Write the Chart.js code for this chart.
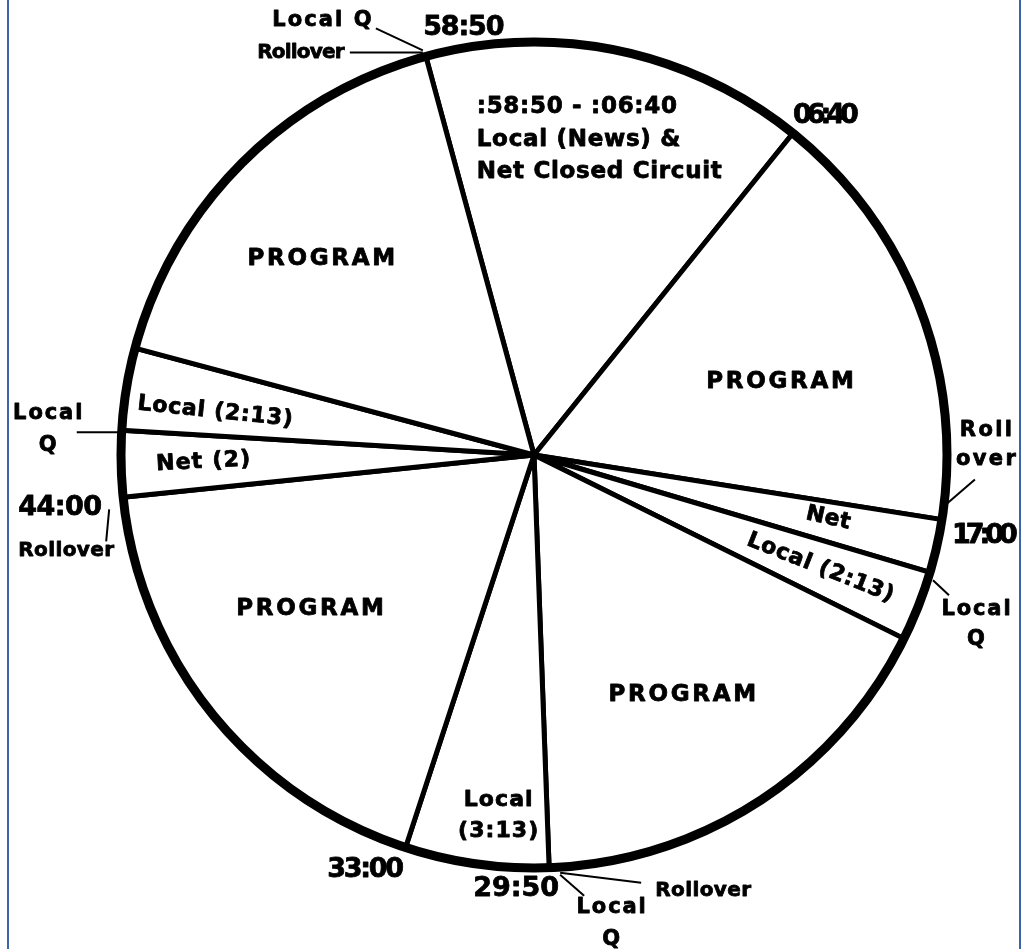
<!DOCTYPE html>
<html>
<head>
<meta charset="utf-8">
<script src="https://cdn.jsdelivr.net/npm/chart.js@4.4.0/dist/chart.umd.min.js"></script>
<style>
  html, body { margin: 0; padding: 0; background: #fff; }
  #frame { position: relative; width: 1032px; height: 949px; overflow: hidden; }
  #frame:before, #frame:after { content: ''; position: absolute; top: 0; bottom: 0; width: 0; border-left: 2px solid #3a66a8; }
  #frame:before { left: 7px; }
  #frame:after { left: 1019px; }
  canvas { position: relative; display: block; }
</style>
</head>
<body>
<div id="frame"><canvas id="clock" width="1032" height="949"></canvas></div>
<script>
//-----------------------------------------------------------------------------
// Data
//-----------------------------------------------------------------------------

// slices of the hour clock, clockwise from the :58:50 spoke
var segmentNames = [
  ':58:50 - :06:40\nLocal (News) &\nNet Closed Circuit',
  'PROGRAM', 'Net', 'Local (2:13)', 'PROGRAM', 'Local\n(3:13)',
  'PROGRAM', 'Net (2)', 'Local (2:13)', 'PROGRAM'
];
// size of each slice in minutes, as drawn on the clock face
var segmentMinutes = [9.0, 10.03, 1.25, 1.65, 10.25, 3.37, 11.0, 1.55, 1.93, 9.97];
// minute mark where the first slice starts
var startMinute = 57.47;

// time stamps printed at the spokes (spoke n = start of slice n)
var tickLabels = ['58:50', '06:40', '17:00', '29:50', '33:00', '44:00'];
var tickSpokes = [0, 1, 2, 5, 6, 7];

// cue notes with leader lines
var cueLabels = ['Local Q', 'Rollover', 'Roll\nover', 'Local\nQ', 'Local\nQ', 'Rollover', 'Rollover', 'Local\nQ'];
var cueSpokes = [0, 0, 2, 3, 5, 5, 7, 8];

//-----------------------------------------------------------------------------
// Layout (positions and styles only)
//-----------------------------------------------------------------------------

var Layout = {
  font: '"DejaVu Sans", "Open Sans", sans-serif',
  weight: 0.8,    // extra outline to thicken the glyphs
  shiftX: 4,      // text sits a little right of the pie centre
  ring: 9,
  leader: 2,
  // clock angle (deg), fraction of radius, tilt (deg)
  slices: [
    {angle: 349.0, r: 0.777, size: 23, spacing: 0.7, lead: 32.5, align: 'left'},
    {angle: 73.2,  r: 0.612, size: 23, spacing: 2.7},
    {angle: 102.3, r: 0.719, size: 22, spacing: 0.5, tilt: 12.5},
    {angle: 111.8, r: 0.736, size: 22, spacing: 0.8, tilt: 21.5},
    {angle: 149.0, r: 0.678, size: 23, spacing: 2.7},
    {angle: 186.3, r: 0.879, size: 22, spacing: 1.1, lead: 31},
    {angle: 236.0, r: 0.666, size: 23, spacing: 2.7},
    {angle: 268.8, r: 0.811, size: 22, spacing: 1.2, tilt: -3},
    {angle: 277.6, r: 0.789, size: 22, spacing: 0.8, tilt: 6},
    {angle: 312.1, r: 0.707, size: 23, spacing: 2.7}
  ],
  // offsets from where the spoke meets the ring
  ticks: [
    {dx: 34,  dy: -28, spacing: -1.2},
    {dx: 29,  dy: -17, spacing: -5},
    {dx: 39,  dy: 16,  spacing: -5},
    {dx: -37, dy: 21,  spacing: 0},
    {dx: -44, dy: 22,  spacing: -2.3},
    {dx: -67, dy: 11,  spacing: -0.5}
  ],
  cues: [
    {dx: -108, dy: -36, size: 21, spacing: 2.1, line: [-54, -28, -3, -6]},
    {dx: -129, dy: -4,  size: 20, spacing: -0.8, line: [-80, -4, -3, -4]},
    {dx: 40,   dy: -75, size: 21, spacing: 2.4, lead: 29, line: [29, -40, 4, -15]},
    {dx: 42,   dy: 52,  size: 21, spacing: 1.9, lead: 30, line: [-1, 8, 19, 23]},
    {dx: 58,   dy: 56,  size: 21, spacing: 1.9, lead: 32, line: [7, 7, 35, 28]},
    {dx: 150,  dy: 23,  size: 20, spacing: 0.4, line: [7, 5, 92, 15]},
    {dx: -61,  dy: 53,  size: 20, spacing: 0.4, line: [-21, 44, -14, 12]},
    {dx: -78,  dy: -1,  size: 21, spacing: 1.9, lead: 32, line: [-49, 2, 0, 2]}
  ]
};

//-----------------------------------------------------------------------------
// Helpers
//-----------------------------------------------------------------------------

function drawText(ctx, text, x, y, o) {
  var lines = text.split('\n');
  var lead = o.lead || 0;
  var sp = o.spacing || 0;
  var align = o.align || 'center';
  ctx.save();
  ctx.translate(x + Layout.shiftX, y);
  ctx.rotate((o.tilt || 0) * Math.PI / 180);
  ctx.font = '700 ' + o.size + 'px ' + Layout.font;
  ctx.letterSpacing = sp + 'px';
  ctx.textAlign = align;
  ctx.textBaseline = 'middle';
  ctx.fillStyle = '#000';
  ctx.strokeStyle = '#000';
  ctx.lineWidth = Layout.weight;
  ctx.lineJoin = 'round';
  // letterSpacing leaves a gap after the last glyph, nudge centred text back
  var shift = align === 'center' ? sp / 2 : 0;
  var y0 = -lead * (lines.length - 1) / 2;
  for (var i = 0; i < lines.length; i++) {
    ctx.fillText(lines[i], shift, y0 + i * lead);
    ctx.strokeText(lines[i], shift, y0 + i * lead);
  }
  ctx.restore();
}

function spokeEnd(arcs, n) {
  var a = arcs[n];
  return {x: a.x + a.outerRadius * Math.cos(a.startAngle), y: a.y + a.outerRadius * Math.sin(a.startAngle)};
}

//-----------------------------------------------------------------------------
// Clock face plugin: ring, leaders and labels
//-----------------------------------------------------------------------------

var clockFace = {
  id: 'clockFace',
  afterDatasetsDraw: function(chart) {
    var ctx = chart.ctx;
    var arcs = chart.getDatasetMeta(0).data;
    var cx = arcs[0].x, cy = arcs[0].y, R = arcs[0].outerRadius;

    // leader lines first, the ring covers their ends
    ctx.save();
    ctx.strokeStyle = '#000';
    ctx.lineWidth = Layout.leader;
    cueSpokes.forEach(function(s, i) {
      var p = spokeEnd(arcs, s), l = Layout.cues[i].line;
      ctx.beginPath();
      ctx.moveTo(p.x + l[0] + Layout.shiftX, p.y + l[1]);
      ctx.lineTo(p.x + l[2], p.y + l[3]);
      ctx.stroke();
    });

    // thick outer ring
    ctx.lineWidth = Layout.ring;
    ctx.beginPath();
    ctx.arc(cx, cy, R, 0, Math.PI * 2);
    ctx.stroke();
    ctx.restore();

    // slice labels
    segmentNames.forEach(function(name, i) {
      var o = Layout.slices[i];
      var t = (o.angle - 90) * Math.PI / 180;
      drawText(ctx, name, cx + o.r * R * Math.cos(t), cy + o.r * R * Math.sin(t), o);
    });

    // time stamps
    tickLabels.forEach(function(txt, i) {
      var p = spokeEnd(arcs, tickSpokes[i]), o = Layout.ticks[i];
      drawText(ctx, txt, p.x + o.dx, p.y + o.dy, {size: 27, spacing: o.spacing});
    });

    // cues
    cueLabels.forEach(function(txt, i) {
      var p = spokeEnd(arcs, cueSpokes[i]), o = Layout.cues[i];
      drawText(ctx, txt, p.x + o.dx, p.y + o.dy, o);
    });
  }
};

//-----------------------------------------------------------------------------
// The chart
//-----------------------------------------------------------------------------

new Chart(document.getElementById('clock'), {
  type: 'pie',
  data: {
    labels: segmentNames,
    datasets: [{
      data: segmentMinutes,
      backgroundColor: '#fff',
      borderColor: '#000',
      borderWidth: 5,
      hoverBorderWidth: 5,
      hoverOffset: 0,
      offset: 0
    }]
  },
  options: {
    responsive: false,
    animation: false,
    events: [],
    rotation: startMinute * 6,
    layout: {padding: {left: 36, right: 0, top: 39.5, bottom: 78.5}},
    plugins: {legend: {display: false}, tooltip: {enabled: false}}
  },
  plugins: [clockFace]
});
</script>
</body>
</html>
